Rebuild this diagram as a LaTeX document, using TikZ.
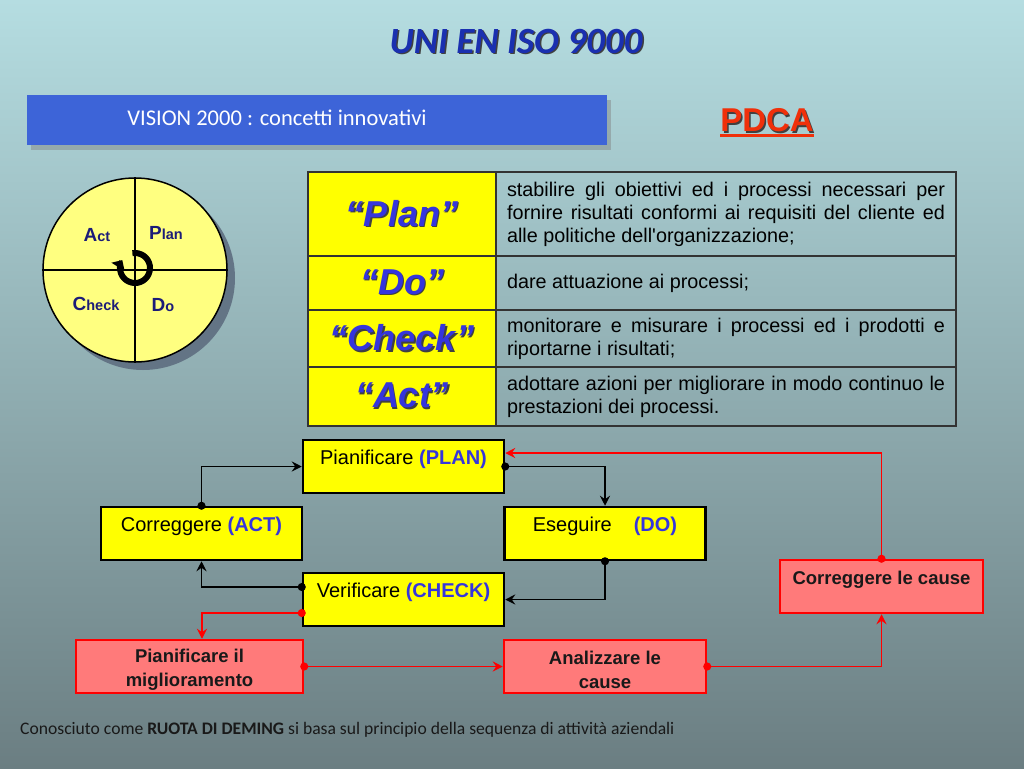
\documentclass[tikz,border=0pt]{standalone}
\usepackage{fontspec}
\setmainfont{Liberation Sans}
\newfontfamily\calibri{Carlito}
\usepackage{tikz}
\usetikzlibrary{arrows.meta, positioning, calc, shadows}
\definecolor{bgTop}{HTML}{B5DDE1}
\definecolor{bgMid}{HTML}{92AEB1}
\definecolor{bgBot}{HTML}{6B7E82}
\definecolor{titleBlue}{HTML}{1A30B0}
\definecolor{bannerBlue}{HTML}{3D64D8}
\definecolor{pdcaRed}{HTML}{F0300A}
\definecolor{wheelYellow}{HTML}{FFFF80}
\definecolor{wheelText}{HTML}{1C1C78}
\definecolor{cellYellow}{HTML}{FFFF00}
\definecolor{keyBlue}{HTML}{3535DD}
\definecolor{boxRed}{HTML}{FF7A7A}
\definecolor{lineRed}{HTML}{FF0000}
\definecolor{shadowGrey}{HTML}{5E6E80}
% text with a small dark shadow
\newcommand{\shtext}[2]{\leavevmode\rlap{\kern1.5pt\raisebox{-1.5pt}{\color{black!75}#2}}{\color{#1}#2}}
\newcommand{\bigsmall}[2]{{\fontsize{19}{19}\selectfont #1}{\fontsize{14.5}{14.5}\selectfont #2}}

\begin{document}
\begin{tikzpicture}[
    x=1pt, y=-1pt,
    lcell/.style={draw=black!80, line width=1.2pt, fill=cellYellow,
                  minimum width=188pt,
                  font=\fontsize{36}{40}\bfseries\itshape\selectfont},
    rcell/.style={draw=black!80, line width=1.2pt, minimum width=460pt,
                  text width=438pt, align=justify, inner xsep=11pt,
                  font=\fontsize{19.8}{23}\selectfont},
    stepbox/.style={draw, line width=2.5pt, fill=cellYellow,
                    minimum width=201pt, minimum height=53pt,
                    text height=14pt, text depth=18pt,
                    font=\fontsize{20}{22}\selectfont},
    fixbox/.style={draw=lineRed, line width=2.5pt, fill=boxRed,
                   minimum height=53pt, align=center, text=black!90,
                   inner ysep=1pt,
                   font=\fontsize{18.5}{24}\bfseries\selectfont},
    wheeltext/.style={text=wheelText, font=\bfseries},
    link/.style={{Circle[length=8pt]}-{Stealth[length=10pt,width=10pt,inset=3.5pt]},
                 shorten <=-4pt, line width=1.5pt},
    redlink/.style={link, draw=lineRed},
]
% Background
\shade[top color=bgTop, middle color=bgMid, bottom color=bgBot]
    (0,0) rectangle (1024,768);
\useasboundingbox (0,0) rectangle (1024,768);

% Heading
\node[font=\calibri\fontsize{37}{42}\bfseries\itshape\selectfont]
    (title) at (516,42) {\shtext{titleBlue}{UNI EN ISO 9000}};
\node[draw=none, fill=bannerBlue, minimum width=580pt, minimum height=50pt,
      drop shadow={shadow xshift=4pt, shadow yshift=-5pt, opacity=0.45}]
    (banner) at (317,120) {};
\node[text=white, font=\calibri\fontsize{22.5}{26}\selectfont]
    (vision) at (277,118) {VISION 2000 : concetti innovativi};
\node[inner sep=0pt, font=\fontsize{33}{36}\bfseries\selectfont]
    (pdca) at (767,121) {\shtext{pdcaRed}{PDCA}};
\draw[pdcaRed, line width=2.5pt] ([yshift=-4pt]pdca.base west) -- ([yshift=-4pt]pdca.base east);

% Deming wheel
\node[circle, draw, line width=1.5pt, fill=wheelYellow, minimum size=184pt,
      drop shadow={shadow xshift=8pt, shadow yshift=-8pt, fill=shadowGrey, opacity=0.9}]
    (wheel) at (135,270) {};
\draw[line width=1.2pt] (wheel.north) -- (wheel.south);
\draw[line width=1.2pt] (wheel.west) -- (wheel.east);
\draw[line width=6pt, -{Triangle[length=8pt,width=15pt]}]
    (135,268) ++(-100:15) arc[start angle=-100, end angle=212, radius=15];
\node[wheeltext] (wact) at (97,235) {\bigsmall{A}{ct}};
\node[wheeltext] (wplan) at (166,233) {\bigsmall{P}{lan}};
\node[wheeltext] (wcheck) at (96,304) {\bigsmall{C}{heck}};
\node[wheeltext] (wdo) at (163,305) {\bigsmall{D}{o}};

% Table
\node[lcell, minimum height=84pt] (tplan) at (402,214) {\shtext{keyBlue}{“Plan”}};
\node[lcell, minimum height=54pt] (tdo) at (402,283) {\shtext{keyBlue}{“Do”}};
\node[lcell, minimum height=57pt] (tcheck) at (402,338.5) {\shtext{keyBlue}{“Check”}};
\node[lcell, minimum height=59pt] (tact) at (402,396.5) {\shtext{keyBlue}{“Act”}};
\node[rcell, minimum height=84pt] (dplan) at (726,214)
    {stabilire gli obiettivi ed i processi necessari per\linebreak
     fornire risultati conformi ai requisiti del cliente ed\linebreak
     alle politiche dell\textquotesingle organizzazione;};
\node[rcell, minimum height=54pt] (ddo) at (726,283) {dare attuazione ai processi;};
\node[rcell, minimum height=57pt] (dcheck) at (726,338.5)
    {monitorare e misurare i processi ed i prodotti e\linebreak
     riportarne i risultati;};
\node[rcell, minimum height=59pt] (dact) at (726,396.5)
    {adottare azioni per migliorare in modo continuo le\linebreak
     prestazioni dei processi.};

% Cycle boxes
\node[stepbox] (plan) at (403.5,466.5) {Pianificare \textbf{\color{keyBlue}(PLAN)}};
\node[stepbox] (act) at (201.5,533.5) {Correggere \textbf{\color{keyBlue}(ACT)}};
\node[stepbox] (do) at (605,533.5) {Eseguire\hspace{1.1em}\textbf{\color{keyBlue}(DO)}};
\node[stepbox] (check) at (403.5,599.5) {Verificare \textbf{\color{keyBlue}(CHECK)}};

% Improvement boxes
\node[fixbox, minimum width=227pt] (plimp) at (189.5,666.5) {\rule{0pt}{20pt}Pianificare il\\miglioramento};
\node[fixbox, minimum width=202pt] (anal) at (605,666.5) {\rule{0pt}{20pt}Analizzare le\\cause};
\node[fixbox, minimum width=203pt, text height=14pt, text depth=18pt]
    (fixcause) at (881.5,586.5) {Correggere le cause};

% Arrows
\draw[link] (act.north) |- (plan.west);
\draw[link] (plan.east) -| (do.north);
\draw[link] (do.south) |- (check.east);
\draw[link] ([yshift=12.5pt]check.west) -| (act.south);
\draw[redlink] ([yshift=-13.5pt]check.west) -| ([xshift=12.5pt]plimp.north);
\draw[redlink] (plimp.east) -- (anal.west);
\draw[redlink] (anal.east) -| (fixcause.south);
\draw[redlink] (fixcause.north) |- ([yshift=13.5pt]plan.east);

% Footer
\node[anchor=west, inner sep=0pt, text=black!90, font=\calibri\fontsize{17.6}{20}\selectfont]
    (footer) at (20,730) {Conosciuto come \textbf{RUOTA DI DEMING} si basa sul principio della sequenza di attività aziendali};
\end{tikzpicture}
\end{document}
